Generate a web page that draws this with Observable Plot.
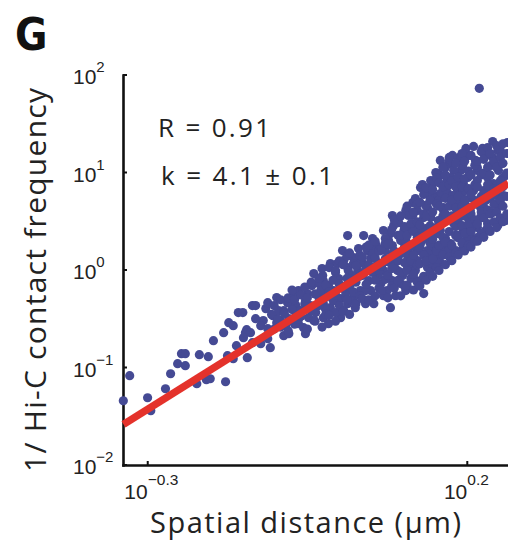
<!DOCTYPE html>
<html>
<head>
<meta charset="utf-8">
<script src="https://cdn.jsdelivr.net/npm/d3@7"></script>
<script src="https://cdn.jsdelivr.net/npm/@observablehq/plot@0.6"></script>
<style>
  html, body { margin: 0; padding: 0; background: #ffffff; }
  svg { display: block; }
</style>
</head>
<body>
<div id="chart"></div>
<script>
// log10 of spatial distance (µm) for individually readable locus pairs
const logDistance = [
-0.339,-0.329,-0.301,-0.296,-0.273,-0.265,-0.254,-0.248,-0.242,-0.242,
-0.220,-0.206,-0.224,-0.209,-0.203,-0.198,-0.182,-0.174,-0.179,-0.176,
-0.167,-0.159,-0.151,-0.146,-0.145,-0.148,-0.137,-0.167,-0.132,-0.152,
-0.120,-0.105,-0.124,-0.140,-0.162,-0.109,-0.124,-0.099,-0.085,-0.073,
-0.066,-0.054,-0.065,-0.049,-0.026,-0.018,0.001,-0.015,0.012,0.001,
-0.026,-0.033,-0.082,-0.093,-0.057,-0.113,-0.088,-0.069,-0.069,-0.044,
-0.065,-0.051,-0.041,-0.027,-0.015,-0.004,0.012,0.028,0.037,-0.026,
0.001,0.017,-0.023,-0.010,-0.023,0.006,0.021,0.024,0.032,0.040,
0.012,0.043,0.037,0.082,0.114,0.145,0.153,0.173,0.186,0.201,
0.225,0.239,0.254,0.231,0.239,0.225,0.157,0.137,0.121,0.100,
0.079,0.064,0.043,0.021,0.006,0.053,0.032,0.017,0.009,0.053,
0.074,0.095,0.126,0.137,0.115,0.153,0.173,0.193,0.204,0.215,
0.220,0.200,0.184,0.173,0.157,0.142,0.126,0.106,0.084,0.068,
0.106,0.137,0.162,0.184,0.209,0.200,0.215,0.189,0.168,0.131,
0.095,0.068,0.121,0.090,0.115,0.131,0.064,0.048,0.079,0.218,
0.239,0.262,0.247,0.228,0.189,0.170,0.154,0.178,0.215,0.254,
0.157,0.168,0.137,0.121,0.142,0.162,0.184,0.204,0.225,0.240,
0.215,0.200,0.184,0.162,0.142,0.121,0.146,0.173,0.193,0.215,
0.231,0.204,0.220,0.126,0.118,0.153,0.178,0.189,0.215,0.193,
0.173,0.142,0.126,-0.109,-0.096,-0.080,-0.062,-0.046,-0.038,-0.030,
-0.010,-0.002,0.009,0.020,0.026,0.035,0.048,0.057,0.071,0.082,
0.092,0.103,0.110,0.092,0.076,0.059,0.045,0.068,0.087,0.103,
0.110,0.123,0.134,0.145,0.154,0.165,0.170,0.181,0.197,0.208,
0.228,0.244,0.251,0.259,0.248,0.236,0.212,0.192,0.181,0.165,
0.145,0.114,0.103,0.084,0.051,0.029,-0.007,-0.018,-0.033,-0.054,
-0.074,-0.088,-0.099,-0.116,-0.132,-0.137,-0.115,-0.080,-0.041,-0.007,
0.017,0.040,0.060,0.082,0.098,0.118,0.139,0.157,0.181,0.198,
0.228,0.247,0.259,0.256,0.245,0.233,0.212,0.192,0.176,0.154,
0.134,0.118,0.107,0.071,0.051,0.032,0.013,0.004,0.129,0.150,
0.157,0.176,0.197,0.209,0.223,0.251
];
// log10 of 1 / Hi-C contact frequency, same order
const logInvFrequency = [
-1.336,-1.079,-1.305,-1.438,-1.213,-1.059,-0.956,-0.853,-0.853,-0.976,
-0.863,-0.884,-1.161,-1.120,-1.110,-0.720,-0.638,-0.535,-1.141,-0.874,
-0.905,-0.432,-0.689,-0.607,-0.894,-0.638,-0.360,-0.566,-0.360,-0.432,
-0.514,-0.463,-0.566,-0.638,-0.771,-0.792,-0.751,-0.278,-0.566,-0.360,
-0.237,-0.648,-0.545,-0.484,-0.484,-0.545,-0.484,-0.381,-0.340,-0.289,
-0.340,-0.278,-0.330,-0.514,-0.586,-0.597,-0.668,-0.443,-0.360,-0.155,
-0.206,-0.237,-0.032,-0.052,0.071,0.071,0.030,-0.001,-0.032,-0.104,
-0.155,-0.104,-0.278,-0.309,-0.391,-0.412,-0.278,-0.381,-0.206,-0.340,
0.358,0.225,0.358,0.564,0.697,0.892,0.974,1.098,1.159,1.180,
1.200,1.159,1.098,0.954,0.594,0.646,0.790,0.646,0.440,0.410,
0.379,0.204,0.204,0.132,0.102,0.030,-0.032,-0.134,-0.278,-0.340,
-0.206,-0.134,-0.104,0.030,0.132,0.132,0.276,0.410,0.338,0.440,
0.543,0.543,0.615,0.543,0.410,0.338,0.276,0.204,0.102,-0.001,
0.030,0.204,0.646,0.820,0.820,0.954,1.026,1.026,0.923,0.543,
0.307,0.410,0.307,-0.001,-0.073,-0.237,-0.134,-0.206,-0.381,1.868,
1.323,1.313,1.231,1.180,1.149,1.108,0.995,1.026,1.057,0.944,
0.974,0.800,0.790,0.615,0.543,0.615,0.687,0.748,0.820,0.892,
0.512,0.440,0.338,0.235,0.174,0.102,0.050,0.132,0.235,0.338,
0.482,0.615,0.646,0.410,0.235,0.379,0.482,0.584,0.923,0.892,
0.954,0.923,0.851,-0.617,-0.412,-0.494,-0.412,-0.360,-0.432,-0.206,
-0.206,-0.083,-0.227,-0.052,0.122,0.081,0.122,0.256,0.204,0.256,
0.153,0.307,0.430,0.492,0.307,0.081,-0.104,-0.258,-0.258,-0.206,
0.050,0.204,0.430,0.256,0.512,0.328,0.204,0.451,0.667,0.461,
0.718,0.769,0.667,0.974,1.026,1.077,1.129,1.077,0.923,1.057,
0.769,0.564,0.615,0.461,0.328,0.225,-0.021,-0.155,-0.134,-0.309,
-0.268,-0.412,-0.535,-0.391,-0.494,-0.740,-0.678,-0.648,-0.514,-0.432,
-0.309,-0.206,-0.052,-0.104,-0.052,-0.001,0.122,0.081,0.204,0.328,
0.410,0.461,0.512,0.769,0.872,0.820,0.718,0.800,0.769,0.718,
0.667,0.738,0.564,0.328,0.204,0.081,-0.001,0.204,0.882,1.005,
1.129,1.180,1.252,1.273,1.252,1.231
];
// dense band (overlapping dots), estimated strip by strip: log10 distance of each strip
const bandLogDistance = [
-0.113,-0.107,-0.103,-0.097,-0.093,-0.087,-0.081,-0.075,-0.071,-0.065,
-0.061,-0.055,-0.051,-0.045,-0.039,-0.033,-0.028,-0.022,-0.017,-0.011,
-0.007,-0.001,0.005,0.011,0.015,0.021,0.025,0.031,0.035,0.041,
0.045,0.051,0.055,0.061,0.065,0.071,0.075,0.081,0.085,0.091,
0.095,0.101,0.105,0.111,0.115,0.121,0.125,0.131,0.135,0.141,
0.145,0.151,0.155,0.161,0.165,0.171,0.175,0.181,0.185,0.191,
0.195,0.201,0.205,0.211,0.215,0.221,0.225,0.231,0.235,0.241,
0.245,0.251,0.255,0.261
];
// ... and the log10 (1 / contact frequency) values of the dots in that strip
const bandLogInvFrequency = [
[-0.70,-0.33],[-0.45],
[-0.60,-0.36],[-0.50],
[-0.58,-0.30],[-0.44],
[-0.62,-0.28],[-0.40,-0.20],
[-0.55,-0.30],[-0.50],
[-0.47,-0.25],[-0.34,-0.17],
[-0.60,-0.28],[-0.41,-0.12],
[-0.52,-0.24],[-0.36,-0.08],
[-0.58,-0.20,0.02],[-0.45,-0.15],
[-0.46,-0.22,0.03],[-0.30,-0.10],
[-0.52,-0.25,0.00],[-0.36,-0.14,0.10],
[-0.42,-0.18,0.06],[-0.30,-0.08,0.15],
[-0.45,-0.16,0.18],[-0.22,0.07],
[-0.34,-0.12,0.05],[-0.26,-0.06,0.16],
[-0.29,-0.05,0.14],[-0.14,0.03,0.24],
[-0.30,0.06,0.26],[-0.02,0.17],
[-0.26,-0.10,0.13,0.30],[-0.18,0.00,0.20],
[-0.20,0.05,0.22],[-0.09,0.12,0.28],
[-0.28,-0.05,0.09,0.27],[-0.16,0.02,0.16,0.42],
[-0.18,0.04,0.20,0.52],[-0.10,0.10,0.36],
[-0.26,-0.02,0.18,0.36,0.56],[-0.16,0.08,0.24,0.45],
[-0.15,0.00,0.16,0.36,0.66],[-0.08,0.10,0.26,0.48],
[-0.20,-0.04,0.16,0.40,0.60],[-0.12,0.06,0.34,0.50,0.68],
[-0.16,0.07,0.24,0.47,0.70],[-0.06,0.16,0.32,0.58,0.78],
[-0.10,0.10,0.36,0.56,0.85],[-0.02,0.28,0.46,0.72],
[-0.06,0.12,0.32,0.60,0.83],[0.03,0.20,0.44,0.68,0.95],
[0.00,0.26,0.48,0.66,0.90],[0.16,0.34,0.56,0.86,1.06],
[0.06,0.29,0.58,0.74,0.98],[0.14,0.40,0.66,0.88,1.16],
[0.10,0.26,0.56,0.72,0.92],[0.18,0.36,0.64,0.86,1.10],
[0.16,0.36,0.52,0.76,0.96],[0.28,0.46,0.66,0.86,1.20],
[0.20,0.38,0.56,0.72,0.94,1.12],[0.26,0.48,0.62,0.84,1.02],
[0.24,0.40,0.58,0.78,0.98,1.18],[0.30,0.52,0.68,0.88,1.08],
[0.30,0.48,0.70,0.86,1.12],[0.38,0.60,0.76,0.98,1.22],
[0.34,0.54,0.78,1.00,1.14],[0.44,0.62,0.88,1.06,1.26],
[0.40,0.58,0.74,0.98,1.20],[0.50,0.68,0.84,1.12],
[0.44,0.60,0.82,1.06,1.28],[0.54,0.72,0.92,1.16],
[0.50,0.66,0.86,1.10,1.30],[0.58,0.76,1.00,1.20]
];
// power-law fit (k = 4.1), end points in log10 units
const fitLogDistance = [-0.3387, 0.2637];
const fitLogInvFrequency = [-1.578, 0.895];

const xDomainExp = [-0.3387, 0.2637];
const yDomainExp = [-2, 2];
const xTickExp = [-0.3, 0.2];
const xTickSup = ["\u22120.3", "0.2"];
const yTickExp = [-2, -1, 0, 1, 2];
const yTickSup = ["\u22122", "\u22121", "0", "1", "2"];

const panelLetter = "G";
const statLines = ["R = 0.91", "k = 4.1 \u00b1 0.1"];
const xTitle = "Spatial distance (\u03bcm)";
const yTitle = "1/ Hi-C contact frequency";

const points = logDistance.map((lx, i) => ({x: 10 ** lx, y: 10 ** logInvFrequency[i]}));
bandLogDistance.forEach((lx, i) => {
  bandLogInvFrequency[i].forEach(ly => points.push({x: 10 ** lx, y: 10 ** ly}));
});
const fit = fitLogDistance.map((lx, i) => ({x: 10 ** lx, y: 10 ** fitLogInvFrequency[i]}));

const W = 508, H = 544;
const chart = Plot.plot({
  width: W, height: H,
  marginLeft: 123, marginRight: 0, marginTop: 75, marginBottom: 79,
  style: {background: "#ffffff", overflow: "visible"},
  x: {type: "log", domain: xDomainExp.map(e => 10 ** e), axis: null},
  y: {type: "log", domain: yDomainExp.map(e => 10 ** e), axis: null},
  marks: [
    Plot.frame({anchor: "left", stroke: "#111", strokeWidth: 2.6}),
    Plot.frame({anchor: "bottom", stroke: "#111", strokeWidth: 2.6}),
    Plot.dot(points, {x: "x", y: "y", r: 4.6, fill: "#454a94", stroke: "none"}),
    Plot.line(fit, {x: "x", y: "y", stroke: "#e4322b", strokeWidth: 7.5, strokeLinecap: "butt"})
  ]
});
document.getElementById("chart").appendChild(chart);

const sx = chart.scale("x"), sy = chart.scale("y");
const svg = d3.select(chart);
const tickFont = "'Liberation Sans', Arial, Helvetica, sans-serif";
const textFont = "'Open Sans', 'Noto Sans', sans-serif";
const x0 = sx.apply(10 ** xDomainExp[0]);
const yBottom = sy.apply(10 ** yDomainExp[0]);

// y ticks + labels
yTickExp.forEach((e, i) => {
  const py = sy.apply(10 ** e);
  svg.append("line").attr("x1", x0).attr("x2", x0 + 4).attr("y1", py).attr("y2", py)
    .attr("stroke", "#111").attr("stroke-width", 2);
  const t = svg.append("text").attr("x", 73).attr("y", py + 9).attr("text-anchor", "start")
    .attr("font-family", tickFont).attr("fill", "#222");
  t.append("tspan").attr("font-size", 21).text("10");
  t.append("tspan").attr("font-size", 15).attr("dy", -12).text(yTickSup[i]);
});
// x ticks + labels
xTickExp.forEach((e, i) => {
  const px = sx.apply(10 ** e);
  svg.append("line").attr("x1", px).attr("x2", px).attr("y1", yBottom).attr("y2", yBottom - 4)
    .attr("stroke", "#111").attr("stroke-width", 2);
  svg.append("text").attr("x", px).attr("y", yBottom + 34).attr("text-anchor", "end")
    .attr("font-family", tickFont).attr("font-size", 21).attr("fill", "#222").text("10");
  svg.append("text").attr("x", px).attr("y", yBottom + 20).attr("text-anchor", "start")
    .attr("font-family", tickFont).attr("font-size", 15.5).attr("fill", "#222").text(xTickSup[i]);
});

// panel letter
svg.append("text").attr("x", 15).attr("y", 50).attr("text-anchor", "start")
  .attr("font-family", "'Liberation Sans Narrow', 'DejaVu Sans Condensed', Arial, sans-serif")
  .attr("font-weight", "bold").attr("font-size", 44).attr("fill", "#111").text(panelLetter);

// statistics
svg.append("text").attr("x", 158).attr("y", 137).attr("text-anchor", "start").attr("font-family", textFont)
  .attr("font-size", 26).attr("fill", "#222")
  .attr("textLength", 112).attr("lengthAdjust", "spacing").text(statLines[0]);
svg.append("text").attr("x", 161).attr("y", 185).attr("text-anchor", "start").attr("font-family", textFont)
  .attr("font-size", 26).attr("fill", "#222")
  .attr("textLength", 172).attr("lengthAdjust", "spacing").text(statLines[1]);

// axis titles
svg.append("text").attr("x", 305.5).attr("y", 533).attr("text-anchor", "middle")
  .attr("font-family", textFont).attr("font-size", 29).attr("fill", "#222")
  .attr("textLength", 311).attr("lengthAdjust", "spacing").text(xTitle);
svg.append("text").attr("transform", "translate(46,280) rotate(-90)").attr("text-anchor", "middle")
  .attr("font-family", textFont).attr("font-size", 30).attr("fill", "#222")
  .attr("textLength", 384).attr("lengthAdjust", "spacing").text(yTitle);
</script>
</body>
</html>
